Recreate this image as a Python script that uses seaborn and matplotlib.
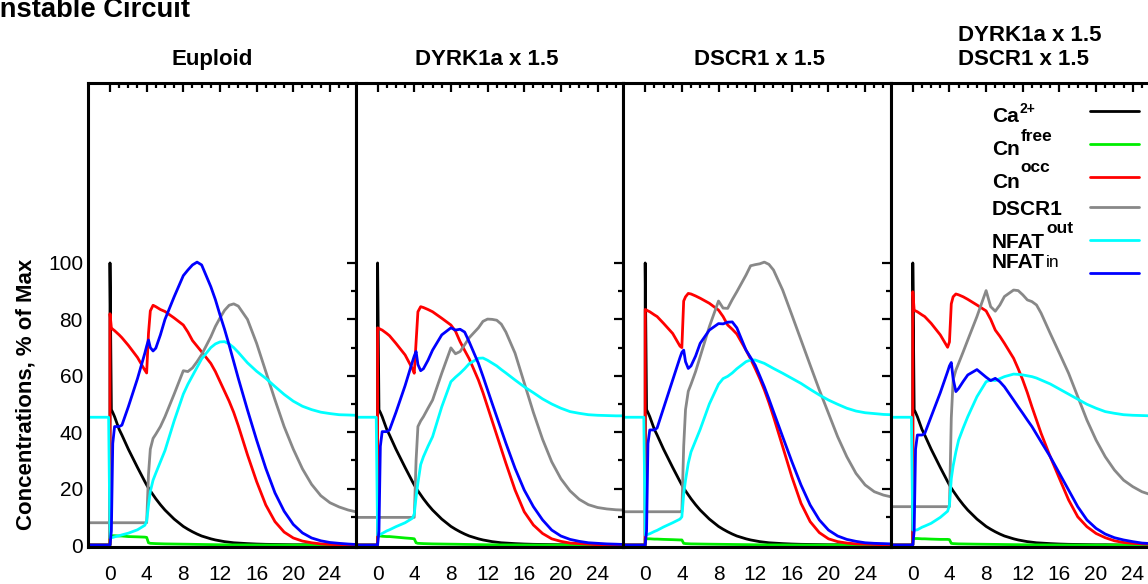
import matplotlib
matplotlib.use("Agg")
import matplotlib.pyplot as plt
from matplotlib.ticker import FixedLocator
import seaborn as sns

# time grid (hours) shared by every series; 0 is listed twice for the spikes
hours = [-2.4, -0.15, 0, 0, 0.15, 0.3, 0.5, 1, 1.3, 2, 3, 3.8, 4,
         4.2, 4.4, 4.7, 5, 5.5, 6,
         7, 8, 8.5, 9, 9.5, 10, 11, 11.5, 12, 12.5, 13, 13.5, 14,
         15, 16, 17, 18, 19, 20, 21, 22, 23, 24, 25, 26, 26.8]

# Ca2+ input, identical in all four runs
ca = [0, 0, 0, 100,
      48, 47, 45.5, 41, 39, 34, 27.5, 22.5, 21.3,
      20.2, 19.2, 17.8, 16.4, 14.3, 12.4,
      9.2, 6.6, 5.6, 4.7, 3.9, 3.2, 2.2, 1.8, 1.5, 1.2, 1.0, 0.8, 0.7,
      0.5, 0.35, 0.25, 0.2, 0.15, 0.1, 0.1, 0.05, 0, 0, 0, 0, 0]

# Euploid
eu_free = [0, 0, 0, 3.3,
           3.3, 3.3, 3.3, 3.2, 3.2, 3.0, 2.9, 2.8, 2.7,
           0.8, 0.6, 0.55, 0.5, 0.45, 0.4,
           0.35, 0.3, 0.28, 0.25, 0.22, 0.2, 0.15, 0.12, 0.1, 0.08, 0.06, 0.05, 0.04,
           0.03, 0.02, 0.01, 0, 0, 0, 0, 0, 0, 0, 0, 0, 0]
eu_occ = [0, 0, 0, 82,
          77, 76.5, 76, 74.5, 73.5, 70.8, 66.5, 62, 61,
          75, 83, 85, 84.5, 83.5, 82.8,
          80.5, 78, 75.5, 72.5, 70.5, 68.5, 64.4, 61.5, 58, 54.5, 51, 47, 42.3,
          32, 22.5, 14.2, 8.3, 4.6, 2.5, 1.4, 0.8, 0.4, 0.2, 0.1, 0, 0]
eu_dscr1 = [7.9, 7.9, 7.9, 7.9,
            7.9, 7.9, 7.9, 7.9, 7.9, 7.9, 7.9, 7.9, 7.9,
            25, 34, 37.8, 39.3, 42, 45.5,
            53.5, 61.8, 61.5, 62.8, 65, 67.5, 73.8, 77.5, 80.5, 83.2, 85, 85.5, 84.7,
            80, 71.5, 61.5, 51.5, 42, 34, 27, 21.5, 17.5, 15, 13.5, 12.4, 11.8]
eu_out = [45.3, 45.3, 2.5, 2.5,
          2.6, 2.7, 2.9, 3.3, 3.6, 4.2, 5.4, 7.0, 8.5,
          14, 19, 23, 25.5, 29.5, 33.5,
          44, 53.5, 57, 60, 63, 66, 70, 71.3, 72, 72.1, 71.3, 70, 68.3,
          64.6, 61.6, 59.1, 56.2, 53.4, 51, 49.2, 48, 47.1, 46.6, 46.2, 46.1, 46]
eu_in = [0, 0, 0, 0,
         5, 36, 42, 42, 42.5, 49, 59, 68, 70.5,
         72.7, 70, 68.8, 69.8, 74.5, 80,
         88, 95.5, 97.5, 99.3, 100.3, 99.3, 91.6, 87, 81.6, 76.5, 70.9, 65, 59.1,
         47.9, 37.2, 27.2, 18.5, 12, 7.3, 4.3, 2.5, 1.5, 0.9, 0.6, 0.35, 0.2]

# DYRK1a x 1.5
dy_free = [0, 0, 0, 3.2,
           3.2, 3.2, 3.1, 3.0, 3.0, 2.8, 2.5, 2.3, 2.2,
           0.8, 0.6, 0.55, 0.5, 0.45, 0.4,
           0.35, 0.3, 0.28, 0.25, 0.22, 0.2, 0.15, 0.12, 0.1, 0.08, 0.06, 0.05, 0.04,
           0.03, 0.02, 0.01, 0, 0, 0, 0, 0, 0, 0, 0, 0, 0]
dy_occ = [0, 0, 0, 77,
          76.8, 76.5, 76.2, 75, 74.2, 71.5, 67.4, 62.5, 60.9,
          72, 82.7, 84.5, 84.2, 83.5, 82.7,
          80.4, 78, 75.8, 72.1, 69, 66, 58.5, 54, 49, 44, 39, 34, 29,
          19.5, 11.8, 7.1, 4.1, 2.2, 1.3, 0.7, 0.5, 0.3, 0.1, 0, 0, 0]
dy_dscr1 = [9.8, 9.8, 9.8, 9.8,
            9.8, 9.8, 9.8, 9.8, 9.8, 9.8, 9.8, 9.8, 9.8,
            30, 42, 44, 45.5, 48.5, 51.4,
            60.9, 69.9, 67.8, 68.6, 71, 73.5, 77, 79.3, 80.1, 80, 79.7, 78.3, 75.5,
            68, 57.5, 47, 37.5, 29.5, 23.5, 19.2, 16.2, 14.3, 13.3, 12.8, 12.5, 12.4]
dy_out = [45.3, 45.3, 3.5, 3.5,
          3.6, 3.8, 4.1, 5, 5.4, 6.5, 7.9, 9.5, 11,
          17, 22, 28.5, 31.3, 35, 38.4,
          49, 57.9, 59.5, 60.9, 62.5, 64.3, 66.2, 66.3, 65.5, 64.5, 63.5, 62.2, 61,
          58.5, 56.1, 54, 51.8, 50, 48.5, 47.3, 46.7, 46.2, 46, 45.9, 45.8, 45.8]
dy_in = [0, 0, 0, 0,
         5, 35, 40.2, 40.2, 40.8, 47, 56.5, 65, 67,
         68.6, 64, 61.8, 62.5, 65.5, 69.1,
         74.5, 77, 76.2, 76.5, 75.5, 72, 64.4, 59.8, 55, 50.2, 45.5, 40.8, 36.1,
         27.2, 19.5, 13.6, 8.9, 5.3, 3.2, 2, 1.3, 0.8, 0.6, 0.4, 0.3, 0.2]

# DSCR1 x 1.5
ds_free = [0, 0, 0, 2.2,
           2.2, 2.2, 2.2, 2.1, 2.1, 2.0, 1.9, 1.8, 1.8,
           0.6, 0.5, 0.45, 0.4, 0.38, 0.35,
           0.3, 0.26, 0.24, 0.22, 0.2, 0.18, 0.14, 0.12, 0.1, 0.08, 0.06, 0.05, 0.04,
           0.03, 0.02, 0.01, 0, 0, 0, 0, 0, 0, 0, 0, 0, 0]
ds_occ = [0, 0, 0, 83.5,
          83.3, 83, 82.7, 81.6, 81, 78.6, 75, 70.5, 70,
          86.5, 88, 89.2, 89, 88.3, 87.5,
          85.7, 83.3, 81, 78, 76.5, 74.8, 69.1, 66, 62.6, 59, 55, 50.5, 45.5,
          34.9, 24.2, 14.8, 8.3, 4.4, 2.2, 1.2, 0.7, 0.4, 0.3, 0.2, 0.1, 0]
ds_dscr1 = [11.8, 11.8, 11.8, 11.8,
            11.8, 11.8, 11.8, 11.8, 11.8, 11.8, 11.8, 11.8, 11.8,
            35, 48, 54.5, 57, 61.5, 66.8,
            77.4, 86.5, 84, 83.9, 87, 89.8, 95.7, 99, 99.4, 99.7, 100.3, 99.5, 97.5,
            90.4, 81.6, 72.7, 63.8, 55, 46.7, 38.4, 31.3, 25.4, 21.3, 18.9, 17.7, 17.1]
ds_out = [45.3, 45.3, 3.5, 3.5,
          3.6, 3.8, 4.0, 4.8, 5.2, 6.4, 7.9, 9.2, 10,
          18, 23, 29, 33, 37, 41,
          50, 57, 59, 59.8, 61, 62.5, 65, 65.6, 65.6, 65, 64.4, 63.5, 62.6,
          60.9, 59.1, 57.3, 55.2, 53.2, 51.4, 49.9, 48.5, 47.5, 46.9, 46.6, 46.3, 46.2]
ds_in = [0, 0, 0, 0,
         5, 36, 40.8, 40.8, 41.5, 48.5, 58.5, 66.5, 68.3,
         69.1, 65, 62.6, 63.5, 67, 71.5,
         76.2, 78.5, 78.4, 79, 79.1, 77, 69.1, 66.5, 63.8, 60, 56.1, 51.8, 47.3,
         38.4, 29.6, 21.3, 14.2, 8.9, 5.3, 3.2, 2, 1.3, 0.8, 0.6, 0.5, 0.4]

# DYRK1a x 1.5 and DSCR1 x 1.5
both_free = [0, 0, 0, 2.3,
             2.3, 2.3, 2.3, 2.2, 2.2, 2.1, 2.0, 2.0, 1.9,
             0.6, 0.5, 0.45, 0.4, 0.38, 0.35,
             0.3, 0.26, 0.24, 0.22, 0.2, 0.18, 0.14, 0.12, 0.1, 0.08, 0.06, 0.05, 0.04,
             0.03, 0.02, 0.01, 0, 0, 0, 0, 0, 0, 0, 0, 0, 0]
both_occ = [0, 0, 0, 89.8,
            83.3, 83, 82.7, 81.6, 81, 78.6, 74.5, 70.1, 72,
            85.5, 88, 89, 88.7, 88, 87.1,
            85.1, 83, 80, 76.2, 74, 71.5, 66.2, 62.5, 58.5, 54, 49, 44.3, 39.6,
            31.3, 23.6, 16, 10, 6.5, 4.1, 2.6, 1.5, 0.9, 0.6, 0.4, 0.25, 0.2]
both_dscr1 = [13.6, 13.6, 13.6, 13.6,
              13.6, 13.6, 13.6, 13.6, 13.6, 13.6, 13.6, 13.6, 13.6,
              45, 58.5, 62, 64.4, 68.5, 72.7,
              81, 90.2, 84.5, 82.9, 85.1, 88.1, 90.4, 90.2, 88.7, 86.9, 86.3, 85.1, 82.2,
              75, 68, 60.9, 52.6, 44.3, 37.2, 31.3, 26.6, 23, 20.7, 18.9, 17.8, 17.2]
both_out = [45.3, 45.3, 5.3, 5.3,
            5.3, 5.3, 5.4, 6.3, 6.7, 7.7, 9.8, 12, 14,
            23.5, 28, 33, 37.2, 41.5, 45.5,
            52.6, 57.9, 58.5, 58.3, 59, 59.7, 60.6, 60.5, 60.3, 60, 59.7, 59.2, 58.5,
            57.1, 55.3, 53.5, 51.7, 49.9, 48.5, 47.3, 46.7, 46.2, 46, 45.9, 45.8, 45.8]
both_in = [0, 0, 0, 0,
           5, 34, 39, 39, 39.5, 45.5, 54, 61.5, 63.5,
           64.7, 59, 54.4, 55.5, 58, 60.3,
           62.2, 59.5, 58.3, 59.1, 57.9, 56.1, 51.4, 49, 46.7, 44.3, 42, 39.3, 36.6,
           31.3, 25.4, 19.5, 13.6, 8.9, 5.9, 3.9, 2.6, 1.8, 1.2, 0.7, 0.5, 0.4]

panel_titles = ["Euploid", "DYRK1a x 1.5", "DSCR1 x 1.5", "DYRK1a x 1.5\nDSCR1 x 1.5"]
legend_main = ["Ca", "Cn", "Cn", "DSCR1", "NFAT", "NFAT"]
legend_sup = ["2+", "free", "occ", "", "out", "in"]
x_major = [0, 4, 8, 12, 16, 20, 24]
x_minor = list(range(0, 27))
y_major = [0, 20, 40, 60, 80, 100]
y_minor = [10, 30, 50, 70, 90]

colors = ["#000000", "#00ee00", "#ff0000", "#888888", "#00ffff", "#0000ff"]

panels = [
    [ca, eu_free, eu_occ, eu_dscr1, eu_out, eu_in],
    [ca, dy_free, dy_occ, dy_dscr1, dy_out, dy_in],
    [ca, ds_free, ds_occ, ds_dscr1, ds_out, ds_in],
    [ca, both_free, both_occ, both_dscr1, both_out, both_in],
]
for series in panels:
    for s in series:
        assert len(s) == len(hours)

sns.set_style("white")
plt.rcParams["font.family"] = ["Liberation Sans", "DejaVu Sans"]
plt.rcParams.update({"text.color": "black", "axes.labelcolor": "black",
                     "xtick.color": "black", "ytick.color": "black"})

W, H = 1148, 584
fig = plt.figure(figsize=(W / 100, H / 100), dpi=100)

left_px, panel_w = 88, 267.6
top_px, bottom_px = 83, 547
title_x = [0.465, 0.491, 0.511, 0.518]

axes = []
for i, (series, title) in enumerate(zip(panels, panel_titles)):
    ax = fig.add_axes([(left_px + i * panel_w) / W, 1 - bottom_px / H,
                       panel_w / W, (bottom_px - top_px) / H])
    axes.append(ax)
    for vals, c in zip(series, colors):
        sns.lineplot(x=hours, y=vals, ax=ax, color=c, lw=2.0,
                     sort=False, estimator=None, legend=False)
    ax.set_xlim(-2.4, 26.8)
    ax.set_ylim(-0.7, 163.8)
    ax.xaxis.set_major_locator(FixedLocator(x_major))
    ax.xaxis.set_minor_locator(FixedLocator(x_minor))
    ax.yaxis.set_major_locator(FixedLocator(y_major))
    ax.yaxis.set_minor_locator(FixedLocator(y_minor))
    ax.tick_params(which="both", direction="in", top=True, right=True,
                   width=1.6, color="black", labelcolor="black")
    ax.tick_params(which="major", length=6.2)
    ax.tick_params(which="minor", length=3.4)
    ax.tick_params(axis="x", which="major", labelsize=15, pad=13)
    ax.tick_params(axis="y", which="major", labelsize=15, pad=3.6,
                   labelleft=(i == 0))
    for sp in ax.spines.values():
        sp.set_linewidth(2.2)
        sp.set_color("black")
        sp.set_visible(True)
    ax.set_xlabel("")
    ax.set_ylabel("")
    ax.set_title(title, fontsize=16, fontweight="bold", pad=13,
                 x=title_x[i], multialignment="left", color="black")

axes[0].set_ylabel("Concentrations, % of Max", fontsize=16, fontweight="bold",
                   color="black")
axes[0].yaxis.set_label_coords(-0.194, 0.33)

fig.text(190 / W, 1 - 17 / H, "Unstable Circuit", ha="right", va="baseline",
         fontsize=19.7, fontweight="bold", color="black")

# key in the last panel: label on the left, line sample on the right
lax = axes[3]
text_base = [0.916, 0.845, 0.774, 0.716, 0.644, 0.601]
sample_y = [0.9397, 0.8685, 0.797, 0.733, 0.6616, 0.5905]
sup_raise = [6.5, 10.0, 10.8, 0, 10.8, 0.7]
sup_size = [10, 12.5, 12.5, 12, 12.5, 12.5]
for k in range(6):
    t = lax.text(0.378, text_base[k], legend_main[k], transform=lax.transAxes,
                 fontsize=15, fontweight="bold", ha="left", va="baseline",
                 color="black")
    if legend_sup[k]:
        lax.annotate(legend_sup[k], xy=(1, 0), xycoords=t,
                     xytext=(0.8, sup_raise[k] + 3.2), textcoords="offset points",
                     ha="left", va="baseline", fontsize=sup_size[k], color="black",
                     fontweight="normal" if legend_sup[k] == "in" else "bold")
    lax.plot([0.744, 0.927], [sample_y[k]] * 2, transform=lax.transAxes,
             color=colors[k], lw=2.0, clip_on=False)

fig.savefig("out.png", dpi=100)
